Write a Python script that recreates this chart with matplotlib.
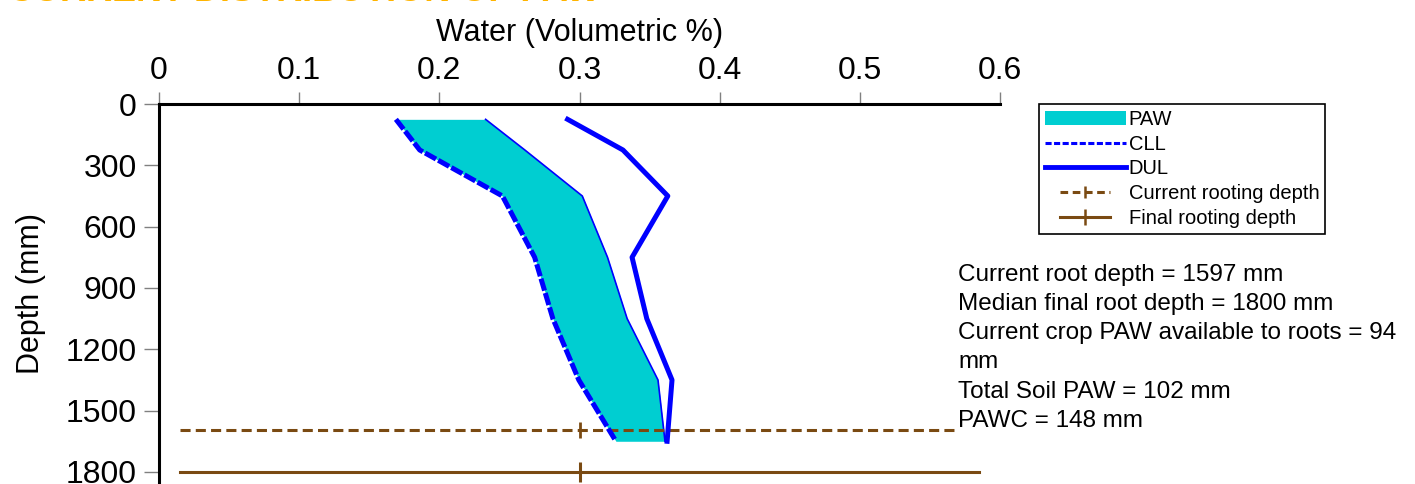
import matplotlib
matplotlib.use("Agg")
import matplotlib.pyplot as plt
from matplotlib.lines import Line2D
from matplotlib.patches import Patch
from matplotlib.legend_handler import HandlerLine2D

# layer mid depths (mm) and water contents (volumetric fraction)
depths = [75, 225, 450, 750, 1050, 1350, 1650]
cll = [0.169, 0.186, 0.245, 0.268, 0.281, 0.2995, 0.326]
paw_top = [0.233, 0.261, 0.302, 0.320, 0.334, 0.356, 0.361]
dul = [0.2915, 0.331, 0.363, 0.3375, 0.348, 0.366, 0.3625]

current_root = 1597
final_root = 1800
current_span = [0.015, 0.567]
final_span = [0.015, 0.585]
marker_x = 0.3

xticks = [0, 0.1, 0.2, 0.3, 0.4, 0.5, 0.6]
xticklabels = ["0", "0.1", "0.2", "0.3", "0.4", "0.5", "0.6"]
yticks = [0, 300, 600, 900, 1200, 1500, 1800]

info_lines = [
    "Current root depth = 1597 mm",
    "Median final root depth = 1800 mm",
    "Current crop PAW available to roots = 94",
    "mm",
    "Total Soil PAW = 102 mm",
    "PAWC = 148 mm",
]

TURQ = "#00CED1"
BLUE = "#0000FF"
BROWN = "#7A4A12"

plt.rcParams['font.family'] = ['Liberation Sans', 'DejaVu Sans']


class ShortLineHandler(HandlerLine2D):
    # legend line drawn shorter than the handle box, centred
    def __init__(self, frac, **kw):
        super().__init__(**kw)
        self.frac = frac

    def create_artists(self, legend, orig_handle, xdescent, ydescent,
                       width, height, fontsize, trans):
        w2 = width * self.frac
        off = (width - w2) / 2
        return super().create_artists(legend, orig_handle, xdescent - off,
                                      ydescent, w2, height, fontsize, trans)


W, H = 1415, 484
fig = plt.figure(figsize=(W / 100, H / 100), dpi=100)
ax = fig.add_axes([159 / W, 0, 841 / W, 380 / H])

ax.fill_betweenx(depths, cll, paw_top, color=TURQ, lw=0, zorder=1)
ax.plot(paw_top, depths, color=BLUE, lw=1.2, zorder=2)
ax.plot(cll, depths, color=BLUE, lw=3.6, dashes=(2.5, 0.5), zorder=3)
ax.plot(dul, depths, color=BLUE, lw=3.6, zorder=3)

ax.plot(current_span, [current_root, current_root], color=BROWN, lw=2.2,
        dashes=(3.3, 1.7), zorder=2)
ax.plot([marker_x], [current_root], marker="|", ms=11, mew=2, color=BROWN, zorder=2)
ax.plot(final_span, [final_root, final_root], color=BROWN, lw=2.2, zorder=2)
ax.plot([marker_x], [final_root], marker="|", ms=14, mew=2.2, color=BROWN, zorder=2)

ax.set_xlim(0, 0.6)
ax.set_ylim(1859, 0)
ax.xaxis.tick_top()
ax.xaxis.set_label_position("top")
ax.set_xticks(xticks)
ax.set_xticklabels(xticklabels)
ax.set_yticks(yticks)
ax.tick_params(axis="x", direction="out", length=9, width=1, color="#808080",
               pad=4, labelsize=23)
ax.tick_params(axis="y", direction="out", length=11, width=1, color="#808080",
               pad=5, labelsize=23)
ax.set_xlabel("Water (Volumetric %)", fontsize=22, labelpad=11)
ax.set_ylabel("Depth (mm)", fontsize=22, labelpad=14)

for s in ["right", "bottom"]:
    ax.spines[s].set_visible(False)
for s in ["top", "left"]:
    ax.spines[s].set_linewidth(2.2)

handles = [
    Patch(facecolor=TURQ, edgecolor="none"),
    Line2D([], [], color=BLUE, lw=2.2, dashes=(2, 0.8)),
    Line2D([], [], color=BLUE, lw=3.5),
    Line2D([], [], color=BROWN, lw=2.2, dashes=(2.5, 1.5), marker="|", ms=9, mew=1.8),
    Line2D([], [], color=BROWN, lw=2.2, marker="|", ms=11, mew=1.8),
]
labels = ["PAW", "CLL", "DUL", "Current rooting depth", "Final rooting depth"]
leg = ax.legend(handles, labels, loc="upper left",
                bbox_to_anchor=(1039 / W, 1 - 104 / H),
                bbox_transform=fig.transFigure, borderaxespad=0,
                fontsize=14.5, handlelength=4.0, handletextpad=0.15,
                labelspacing=0.28, borderpad=0.3, fancybox=False,
                edgecolor="black", framealpha=1,
                handler_map={handles[3]: ShortLineHandler(0.62),
                             handles[4]: ShortLineHandler(0.62)})
leg.get_frame().set_linewidth(1.2)

fig.text(958 / W, 1 - 264 / H, "\n".join(info_lines), fontsize=17.5,
         va="top", ha="left", linespacing=1.42)

fig.text(8 / W, 1 - 1 / H, "CURRENT DISTRIBUTION OF PAW", fontsize=26,
         color="#FFB400", fontweight="bold", va="baseline", ha="left")

fig.savefig("out.png", dpi=100)
